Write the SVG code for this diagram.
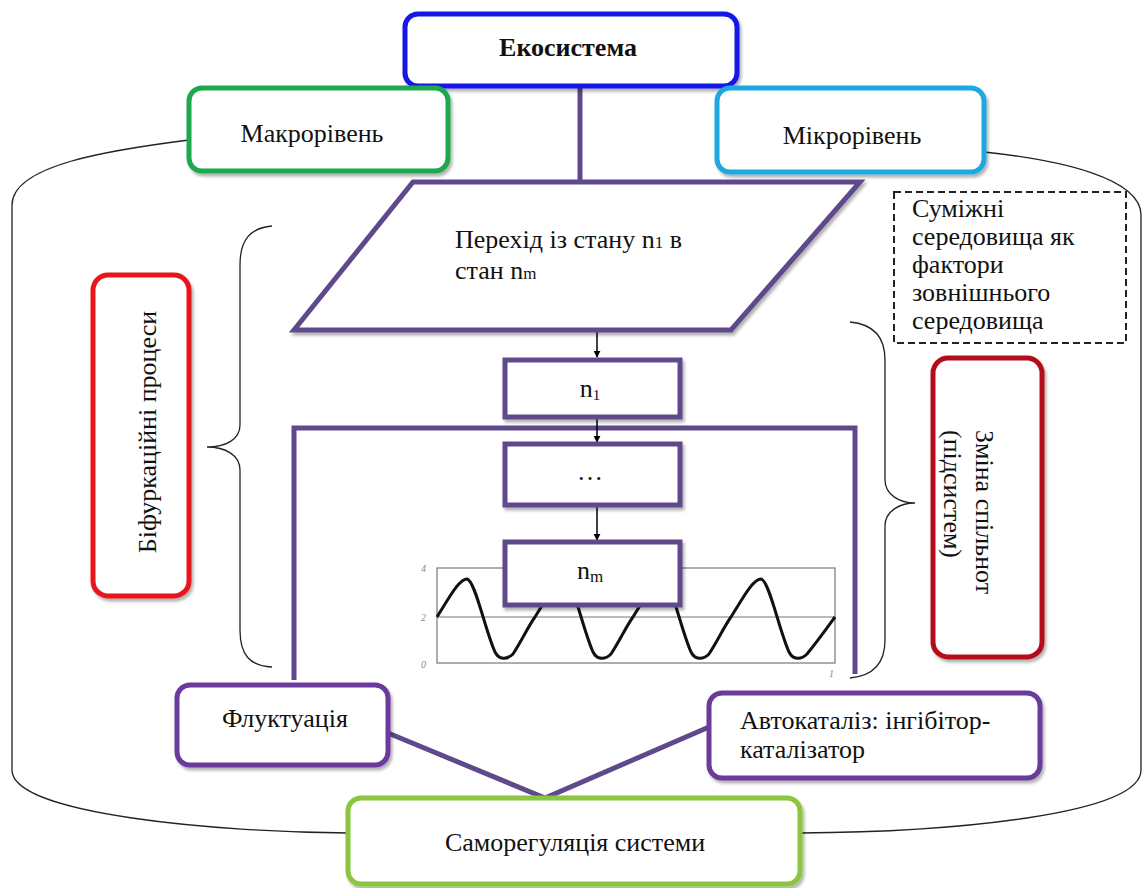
<svg xmlns="http://www.w3.org/2000/svg" width="1147" height="888" viewBox="0 0 1147 888">
  <defs>
    <filter id="shadow" x="-10%" y="-10%" width="130%" height="130%">
      <feDropShadow dx="2" dy="3" stdDeviation="1.5" flood-color="#000" flood-opacity="0.3"/>
    </filter>
    <marker id="arrow" viewBox="0 0 10 10" refX="9" refY="5" markerWidth="7" markerHeight="7" orient="auto" markerUnits="userSpaceOnUse">
      <path d="M0,0 L10,5 L0,10 z" fill="#000"/>
    </marker>
  </defs>
  <style>
    text { font-family: "Liberation Serif", "Times New Roman", serif; font-size: 26px; fill: #111; }
    .box { fill: #fff; stroke-width: 5; filter: url(#shadow); }
    .flow { fill: #fff; stroke: #5e4a8a; stroke-width: 5; filter: url(#shadow); }
    .purple { fill: none; stroke: #5e4a8a; stroke-width: 5; }
    .thin { fill: none; stroke: #222; stroke-width: 1.3; }
    .arr { stroke: #000; stroke-width: 1.5; marker-end: url(#arrow); }
    .axis { fill: none; stroke: #777; stroke-width: 1.2; }
    .lbl { font-size: 10px; fill: #888; font-style: italic; }
  </style>

  <rect width="1147" height="888" fill="#fff"/>

  <!-- outer envelope and braces -->
  <g id="envelope">
    <path class="thin" d="M189,140 C110,150 12,165 12,205 L12,770 C12,815 220,832 348,833"/>
    <path class="thin" d="M984,152 C1060,160 1141,178 1141,215 L1141,770 C1141,815 950,832 800,833"/>
    <path class="thin" d="M272,226 C250,228 240,240 240,265 L240,425 C240,440 225,447 207,447 C225,447 240,455 240,470 L240,630 C240,655 250,666 272,667"/>
    <path class="thin" d="M850,322 C872,324 885,336 885,360 L885,480 C885,495 900,503 915,503 C900,503 885,511 885,526 L885,640 C885,665 872,676 850,678"/>
  </g>

  <!-- connectors -->
  <g id="connectors">
    <line class="purple" x1="580" y1="86" x2="580" y2="182"/>
    <path class="purple" d="M294,680 L294,428 L855,428 L855,674"/>
    <line class="arr" x1="597" y1="331" x2="597" y2="357"/>
    <line class="arr" x1="597" y1="419" x2="597" y2="442"/>
    <line class="arr" x1="597" y1="507" x2="597" y2="540"/>
    <path class="purple" stroke-width="6" d="M388,733 L545,798 L709,727"/>
  </g>

  <!-- oscillation chart -->
  <g id="chart">
    <rect x="437" y="568" width="398" height="95" fill="#fff" class="axis"/>
    <line class="axis" x1="437" y1="617" x2="835" y2="617"/>
    <path fill="none" stroke="#111" stroke-width="3" stroke-linejoin="round" d="M437,617 C449,598 459,579 467,579 C475,580 485,630 495,652 C499,660 507,660 513,654 C521,642 529,625 535,617
      C547,598 557,579 565,579 C573,580 583,630 593,652 C597,660 605,660 611,654 C619,642 627,625 633,617
      C645,598 655,579 663,579 C671,580 681,630 691,652 C695,660 703,660 709,654 C717,642 725,625 731,617
      C743,598 753,579 761,579 C769,580 779,630 789,652 C793,660 801,660 807,654 C817,642 827,628 835,617"/>
    <text class="lbl" x="421" y="572">4</text>
    <text class="lbl" x="421" y="621">2</text>
    <text class="lbl" x="421" y="668">0</text>
    <text class="lbl" x="829" y="677">1</text>
  </g>

  <g id="node-ecosystem">
    <rect class="box" x="405" y="14" width="332" height="72" rx="13" stroke="#1414e6"/>
    <text x="568" y="56" text-anchor="middle" font-weight="bold">Екосистема</text>
  </g>

  <g id="node-macro">
    <rect class="box" x="189" y="88" width="259" height="83" rx="13" stroke="#1ea84e"/>
    <text x="312" y="142" text-anchor="middle">Макрорівень</text>
  </g>

  <g id="node-micro">
    <rect class="box" x="717" y="88" width="267" height="84" rx="13" stroke="#1fa8e0"/>
    <text x="852" y="144" text-anchor="middle">Мікрорівень</text>
  </g>

  <g id="node-transition">
    <polygon class="flow" points="413,182 860,182 731,330 294,330"/>
    <text x="455" y="248">Перехід із стану n<tspan font-size="17">1</tspan>  в</text>
    <text x="455" y="279">стан  n<tspan font-size="17">m</tspan></text>
  </g>

  <g id="node-n1">
    <rect class="flow" x="505" y="360" width="175" height="57" />
    <text x="590" y="397" text-anchor="middle">n<tspan font-size="15" dy="3">1</tspan></text>
  </g>

  <g id="node-dots">
    <rect class="flow" x="505" y="444" width="175" height="61"/>
    <text x="590" y="480" text-anchor="middle">…</text>
  </g>

  <g id="node-nm">
    <rect class="flow" x="505" y="542" width="175" height="63"/>
    <text x="590" y="579" text-anchor="middle">n<tspan font-size="17" dy="3">m</tspan></text>
  </g>

  <g id="node-external">
    <rect x="894" y="192" width="232" height="151" fill="#fff" stroke="#222" stroke-width="2" stroke-dasharray="7 4"/>
    <text x="912" y="217">Суміжні</text>
    <text x="912" y="245">середовища як</text>
    <text x="912" y="273">фактори</text>
    <text x="912" y="301">зовнішнього</text>
    <text x="912" y="329">середовища</text>
  </g>

  <g id="node-bifurcation">
    <rect class="box" x="93" y="275" width="96" height="321" rx="15" stroke="#e8141b"/>
    <text transform="translate(156,432) rotate(-90)" text-anchor="middle">Біфуркаційні процеси</text>
  </g>

  <g id="node-community">
    <rect class="box" x="933" y="358" width="109" height="299" rx="15" stroke="#b3111a" stroke-width="4"/>
    <text transform="translate(976,430) rotate(90)">Зміна спільнот</text>
    <text transform="translate(944,430) rotate(90)">(підсистем)</text>
  </g>

  <g id="node-fluctuation">
    <rect class="box" x="177" y="685" width="211" height="80" rx="13" stroke="#6a3a9c"/>
    <text x="285" y="727" text-anchor="middle">Флуктуація</text>
  </g>

  <g id="node-autocatalysis">
    <rect class="box" x="709" y="693" width="331" height="85" rx="13" stroke="#6a3a9c"/>
    <text x="740" y="729">Автокаталіз: інгібітор-</text>
    <text x="740" y="758">каталізатор</text>
  </g>

  <g id="node-selfregulation">
    <rect class="box" x="348" y="798" width="452" height="86" rx="13" stroke="#8cc63f"/>
    <text x="575" y="851" text-anchor="middle">Саморегуляція системи</text>
  </g>
</svg>
